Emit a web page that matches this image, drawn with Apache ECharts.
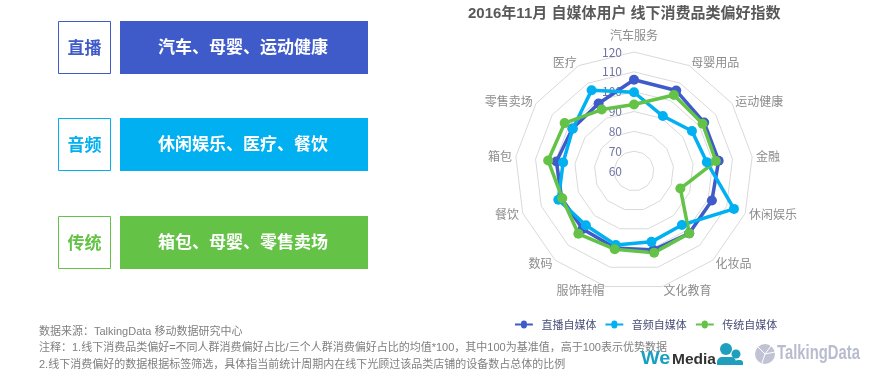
<!DOCTYPE html>
<html><head><meta charset="utf-8">
<style>html,body{margin:0;padding:0;background:#fff}#c{width:880px;height:380px}</style>
<script src="https://cdn.jsdelivr.net/npm/echarts@6/dist/echarts.min.js"></script></head>
<body><div id="c"></div>
<script>
const categories=['汽车服务','母婴用品','运动健康','金融','休闲娱乐','化妆品','文化教育','服饰鞋帽','数码','餐饮','箱包','零售卖场','医疗'];
const liveValues=[106,105.8,103,103,102,102,101,100,99,99,99.4,97.7,98.4];
const audioValues=[99.7,91.3,95.5,97,113.9,96.4,96.8,98.4,96.6,100.8,96,97.5,106];
const mediaValues=[93.5,103.3,102,101.6,85,102,102.4,100.6,102.3,98.7,103.6,102.5,95];
const seriesNames=['直播自媒体','音频自媒体','传统自媒体'];
const colors=['#3f5bc9','#00b0f0','#64c346'];
const tags=['直播','音频','传统'];
const prefs=['汽车、母婴、运动健康','休闲娱乐、医疗、餐饮','箱包、母婴、零售卖场'];
const rowTops=[21,118,216];
const notes=['数据来源：TalkingData 移动数据研究中心','注释：1.线下消费品类偏好=不同人群消费偏好占比/三个人群消费偏好占比的均值*100，其中100为基准值，高于100表示优势数据','2.线下消费偏好的数据根据标签筛选，具体指当前统计周期内在线下光顾过该品类店铺的设备数占总体的比例'];
const font='"Noto Sans CJK SC","Noto Sans",sans-serif';
const latin='"Liberation Sans","Noto Sans CJK SC",sans-serif';
// ECharts lays radar indicators counter-clockwise; the reference runs clockwise from the top.
const clockwise=a=>[a[0],...a.slice(1).reverse()];
const g=[];
tags.forEach((t,i)=>{
  const y=rowTops[i],c=colors[i];
  g.push({type:'rect',shape:{x:58.5,y:y+.5,width:52,height:52},style:{fill:'#fff',stroke:c,lineWidth:1}});
  g.push({type:'text',x:84.5,y:y+26.5,style:{text:t,fill:c,font:'bold 17px '+font,align:'center',verticalAlign:'middle'}});
  g.push({type:'rect',shape:{x:120,y:y,width:248,height:53},style:{fill:c}});
  g.push({type:'text',x:243,y:y+26,style:{text:prefs[i],fill:'#fff',font:'bold 17px '+font,align:'center',verticalAlign:'middle'}});
});
notes.forEach((n,i)=>g.push({type:'text',x:39,y:331.5+i*16.5,style:{text:n,fill:'#7f7f7f',font:'11px '+latin,verticalAlign:'middle'}}));
g.push({type:'text',x:641,y:359,scaleX:1.1,style:{text:'We',fill:'#1a9fc0',font:'bold 18px "Liberation Sans",sans-serif',verticalAlign:'middle'}});
g.push({type:'text',x:672,y:360,style:{text:'Media',fill:'#333',font:'bold 15.5px "Liberation Sans",sans-serif',verticalAlign:'middle'}});
[[726,349,6],[736,354,4.5]].forEach(p=>g.push({type:'circle',shape:{cx:p[0],cy:p[1],r:p[2]},style:{fill:'#1f9ebd'}}));
g.push({type:'rect',shape:{x:717,y:357,width:19,height:8,r:[5,5,0,0]},style:{fill:'#1f9ebd'}});
g.push({type:'rect',shape:{x:735,y:360,width:8,height:5,r:[3,3,0,0]},style:{fill:'#1f9ebd'}});
g.push({type:'circle',shape:{cx:765,cy:354,r:10},style:{fill:'#bfc3d3'}});
[[765,354,758,347],[765,354,775,352],[765,354,762,363],[765,354,771,346]].forEach(l=>g.push({type:'line',shape:{x1:l[0],y1:l[1],x2:l[2],y2:l[3]},style:{stroke:'#fff',lineWidth:1}}));
g.push({type:'text',x:777,y:354,scaleX:0.76,style:{text:'TalkingData',fill:'#b8bccf',font:'bold 19.5px "Liberation Sans",sans-serif',verticalAlign:'middle'}});

const chart=echarts.init(document.getElementById('c'));
chart.setOption({
  animation:false,
  title:{text:'2016年11月 自媒体用户 线下消费品类偏好指数',left:468,top:6,padding:0,textStyle:{color:'#595959',fontSize:15,fontWeight:'bold',fontFamily:latin}},
  legend:{data:seriesNames,top:314,left:510,itemWidth:21,itemHeight:8,itemGap:9,icon:'path://M0 2.8H7A3.4 3.4 0 0 1 14 2.8H21V5.2H14A3.4 3.4 0 0 1 7 5.2H0Z',textStyle:{color:'#4a4f7a',fontSize:11,fontFamily:font,padding:[0,0,0,2]}},
  radar:{
    center:[634,171],radius:119,startAngle:90,splitNumber:6,shape:'polygon',
    indicator:clockwise(categories).map((name,i)=>i===0?{name,min:60,max:120}:{name,min:60,max:120,axisLabel:{show:false}}),
    axisName:{color:'#8c8c8c',fontSize:12,fontFamily:font,
      formatter:name=>name===categories[0]?'{top|'+name+'}':name,
      rich:{top:{color:'#8c8c8c',fontSize:12,fontFamily:font,padding:[0,0,7,0]}}},
    nameGap:4,
    axisLine:{show:false},axisTick:{show:false},
    axisLabel:{show:true,color:'#6f74a3',fontSize:12,margin:12,fontFamily:font},
    splitLine:{lineStyle:{color:'#d9d9d9',width:1}},
    splitArea:{show:false}
  },
  series:[{type:'radar',symbol:'circle',symbolSize:10,
    data:[liveValues,audioValues,mediaValues].map((v,i)=>({name:seriesNames[i],value:clockwise(v),
      itemStyle:{color:colors[i]},lineStyle:{color:colors[i],width:3.5}}))}],
  graphic:g
});
</script></body></html>
